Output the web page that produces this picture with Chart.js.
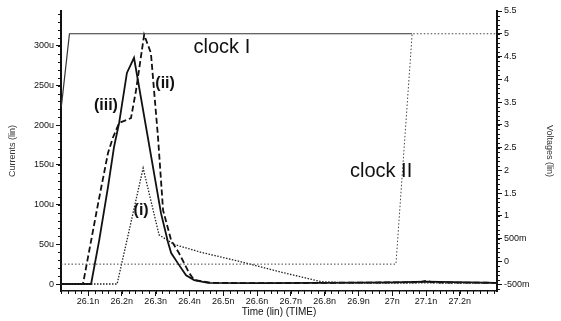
<!DOCTYPE html>
<html>
<head>
<meta charset="utf-8">
<script src="https://cdn.jsdelivr.net/npm/chart.js@4/dist/chart.umd.min.js"></script>
<style>
  html, body { margin: 0; padding: 0; background: #fff; }
  #wrap { width: 561px; height: 321px; }
</style>
</head>
<body>
<div id="wrap"><canvas id="simChart" width="561" height="321"></canvas></div>
<script>
// time in ns, currents in uA (left axis), voltages in V (right axis)
const timeTicks = [26.1, 26.2, 26.3, 26.4, 26.5, 26.6, 26.7, 26.8, 26.9, 27.0, 27.1, 27.2];
const currentTicks = [0, 50, 100, 150, 200, 250, 300];
const voltageTicks = [-0.5, 0, 0.5, 1, 1.5, 2, 2.5, 3, 3.5, 4, 4.5, 5, 5.5];

const curveITime = [26.02, 26.186, 26.263, 26.310, 26.354, 26.434, 26.553, 26.671, 26.789, 26.88, 27.0, 27.1, 27.2, 27.31];
const curveIValues = [0, 0, 146, 62, 50, 40, 28, 15, 3, 1, 1, 1.5, 1, 1];

const curveIITime = [26.02, 26.085, 26.130, 26.159, 26.174, 26.192, 26.227, 26.242, 26.266, 26.286, 26.307, 26.322, 26.346, 26.369, 26.399, 26.414, 26.464, 26.6, 26.8, 27.0, 27.08, 27.1, 27.12, 27.31];
const curveIIValues = [0, 0, 102, 165, 185, 203, 209, 244, 314, 291, 185, 93, 55, 39, 14, 5, 1.5, 1, 1.5, 2, 2, 4, 2, 1.5];

const curveIIITime = [26.02, 26.109, 26.133, 26.159, 26.177, 26.192, 26.215, 26.236, 26.316, 26.337, 26.346, 26.366, 26.390, 26.414, 26.455, 26.6, 26.8, 27.0, 27.1, 27.31];
const curveIIIValues = [0, 0, 55, 122, 173, 203, 266, 285, 89, 52, 39, 26, 11, 5, 1.5, 1, 1.5, 2, 3, 1.5];

const clockITime = [26.021, 26.045, 27.059];
const clockIVolts = [3.4, 5.0, 5.0];

const clockIITime = [26.02, 27.011, 27.059, 27.31];
const clockIIVolts = [-0.06, -0.06, 5.0, 5.0];

// text labels placed in data coordinates: [text, time, value, axis, font]
const curveLabels = [
    ['clock I', 26.496, 4.69, 'yR', '20px "Liberation Sans", Arial, sans-serif'],
    ['clock II', 26.967, 1.97, 'yR', '20px "Liberation Sans", Arial, sans-serif'],
    ['(ii)', 26.328, 253, 'yL', 'bold 16px "Liberation Sans", Arial, sans-serif'],
    ['(iii)', 26.153, 225, 'yL', 'bold 16px "Liberation Sans", Arial, sans-serif'],
    ['(i)', 26.257, 92, 'yL', 'bold 16px "Liberation Sans", Arial, sans-serif']
];

function toPoints(times, values) {
    return times.map((t, i) => ({ x: t, y: values[i] }));
}

function fmtVolt(v) {
    if (v === 0) return '0';
    if (Math.abs(v) < 1) return Math.round(v * 1000) + 'm';
    return String(v);
}

const minorTicks = {
    id: 'minorTicks',
    afterDraw(chart) {
        const ctx = chart.ctx;
        ctx.save();
        ctx.strokeStyle = '#111';
        ctx.lineWidth = 1;
        const x = chart.scales.x, yL = chart.scales.yL, yR = chart.scales.yR;
        ctx.beginPath();
        for (let t = 26.02; t <= 27.31; t += 0.02) {
            const px = Math.round(x.getPixelForValue(t)) + 0.5;
            ctx.moveTo(px, x.top); ctx.lineTo(px, x.top + 3);
        }
        for (let c = 0; c <= 340; c += 10) {
            const py = Math.round(yL.getPixelForValue(c)) + 0.5;
            ctx.moveTo(yL.right - 3, py); ctx.lineTo(yL.right, py);
        }
        for (let v = -0.6; v <= 5.5; v += 0.1) {
            const py = Math.round(yR.getPixelForValue(v)) + 0.5;
            ctx.moveTo(yR.left, py); ctx.lineTo(yR.left + 3, py);
        }
        ctx.stroke();
        ctx.restore();
    }
};

const textLabels = {
    id: 'textLabels',
    afterDatasetsDraw(chart) {
        const ctx = chart.ctx;
        ctx.save();
        ctx.fillStyle = '#111';
        ctx.textAlign = 'center';
        ctx.textBaseline = 'middle';
        curveLabels.forEach(([txt, t, v, axis, font]) => {
            ctx.font = font;
            ctx.fillText(txt, chart.scales.x.getPixelForValue(t), chart.scales[axis].getPixelForValue(v));
        });
        ctx.restore();
    }
};

const tickFont = { family: '"Liberation Sans", Arial, sans-serif', size: 9 };

const ctx = document.getElementById('simChart');
new Chart(ctx, {
    type: 'line',
    data: {
        datasets: [
            { label: 'clock I', data: toPoints(clockITime, clockIVolts), yAxisID: 'yR',
              borderColor: '#333', borderWidth: 1.2 },
            { label: 'clock II', data: toPoints(clockIITime, clockIIVolts), yAxisID: 'yR',
              borderColor: '#444', borderWidth: 1, borderDash: [1.5, 2] },
            { label: '(i)', data: toPoints(curveITime, curveIValues), yAxisID: 'yL',
              borderColor: '#222', borderWidth: 1.3, borderDash: [1.5, 1.5] },
            { label: '(ii)', data: toPoints(curveIITime, curveIIValues), yAxisID: 'yL',
              borderColor: '#111', borderWidth: 1.8, borderDash: [6, 3] },
            { label: '(iii)', data: toPoints(curveIIITime, curveIIIValues), yAxisID: 'yL',
              borderColor: '#111', borderWidth: 1.8 }
        ]
    },
    options: {
        responsive: false,
        animation: false,
        layout: { padding: { top: 11, left: 0, right: 0, bottom: 0 } },
        elements: { point: { radius: 0 }, line: { tension: 0 } },
        plugins: { legend: { display: false }, tooltip: { enabled: false } },
        scales: {
            x: {
                type: 'linear',
                min: 26.02,
                max: 27.31,
                afterFit: s => { s.height = 30; },
                afterBuildTicks: s => { s.ticks = timeTicks.map(v => ({ value: v })); },
                grid: { drawOnChartArea: false, tickLength: 5, color: '#111' },
                border: { color: '#111', width: 1.5 },
                ticks: {
                    font: tickFont, color: '#111', padding: 0, maxRotation: 0, autoSkip: false,
                    callback: v => (Math.round(v * 10) / 10) + 'n'
                },
                title: { display: true, text: 'Time (lin) (TIME)', font: { family: tickFont.family, size: 10 },
                         color: '#111', padding: { top: 0, bottom: 3 } }
            },
            yL: {
                type: 'linear',
                position: 'left',
                min: -8.8,
                max: 344,
                afterFit: s => { s.width = 61; },
                afterBuildTicks: s => { s.ticks = currentTicks.map(v => ({ value: v })); },
                grid: { drawOnChartArea: false, tickLength: 5, color: '#111' },
                border: { color: '#111', width: 2 },
                ticks: { font: tickFont, color: '#111', padding: 2, callback: v => v === 0 ? '0' : v + 'u' },
                title: { display: true, text: 'Currents (lin)', font: { family: tickFont.family, size: 9 },
                         color: '#333', padding: { top: 7, bottom: 0 } }
            },
            yR: {
                type: 'linear',
                position: 'right',
                min: -0.65,
                max: 5.5,
                afterFit: s => { s.width = 64; },
                afterBuildTicks: s => { s.ticks = voltageTicks.map(v => ({ value: v })); },
                grid: { drawOnChartArea: false, tickLength: 5, color: '#111' },
                border: { color: '#111', width: 2 },
                ticks: { font: tickFont, color: '#111', padding: 2, callback: v => fmtVolt(v) },
                title: { display: true, text: 'Voltages (lin)', font: { family: tickFont.family, size: 9 },
                         color: '#333', padding: { top: 6, bottom: 0 } }
            }
        }
    },
    plugins: [minorTicks, textLabels]
});
</script>
</body>
</html>
